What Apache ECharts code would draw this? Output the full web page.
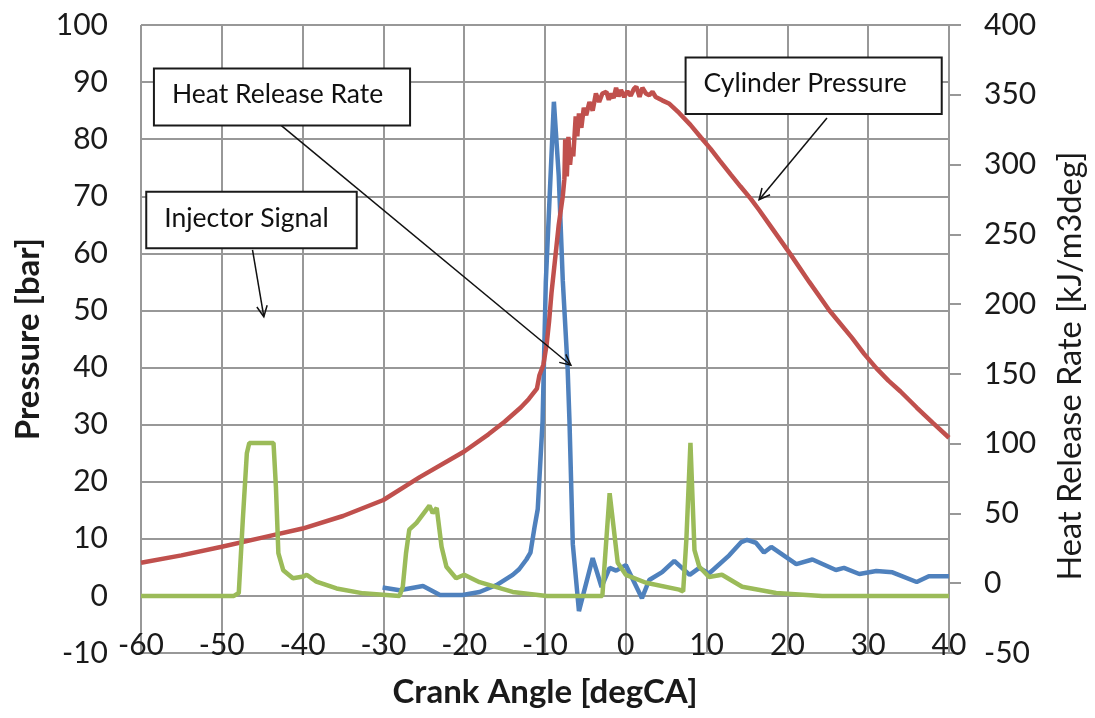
<!DOCTYPE html>
<html>
<head>
<meta charset="utf-8">
<script src="https://cdn.jsdelivr.net/npm/echarts@6/dist/echarts.min.js"></script>
<style>
html,body{margin:0;padding:0;background:#fff;}
#chart{width:1095px;height:718px;}
</style>
</head>
<body>
<div id="chart"></div>
<script>
// ---------- DATA ----------
const xTicks = [-60, -50, -40, -30, -20, -10, 0, 10, 20, 30, 40];
const leftTicks = [-10, 0, 10, 20, 30, 40, 50, 60, 70, 80, 90, 100];
const rightTicks = [-50, 0, 50, 100, 150, 200, 250, 300, 350, 400];

// Cylinder pressure [bar] vs crank angle
const pressureAngle = [-60,-55,-50,-45,-40,-35,-30,-25.5,-20,-17,-15,-13,-12,-11,-10.7,-10.2,-9.8,-9.5,-9.2,-8.9,-8.6,-8.3,-8.0,-7.8,-7.6,-7.5,-7.3,-7.1,-6.9,-6.7,-6.5,-6.2,-6.0,-5.8,-5.5,-5.2,-4.9,-4.5,-4.1,-3.7,-3.3,-2.9,-2.4,-2.1,-1.8,-1.5,-1.2,-0.9,-0.6,-0.2,0.2,0.6,1.0,1.3,1.7,2.05,2.5,2.9,3.3,3.7,4.5,5.4,6.6,8,9.3,10.5,11.6,13,14.2,15.5,16.5,18,20.3,22.7,25.2,28,29.5,31,32.5,34,36,38,40];
const pressureValue = [5.8,7.1,8.6,10.2,11.8,14.0,16.8,20.8,25.3,28.3,30.5,33.0,34.5,36.3,38.6,40.5,44,48,53,57,61,65,68,70,73,80,73.5,80.4,75.5,78.5,77,84,80.5,84.5,82,85.5,84.2,86.5,85,88,86.5,88,88.3,86.9,88,87.2,89,87.5,88.6,87.4,88.4,87.6,88.8,89.2,87.4,89,88,87.7,88.3,87.4,86.8,86.2,84.6,82.5,80.3,78.3,76.3,73.8,71.7,69.5,67.6,64.6,60,55,50,45.2,42.4,39.9,37.7,35.8,33,30.3,27.7];

// Injector signal (plotted on pressure axis)
const injectorAngle = [-60,-48.5,-47.9,-47.4,-46.9,-46.6,-43.6,-43.3,-43.0,-42.4,-41.2,-39.9,-39.5,-38.3,-35.8,-32.5,-28,-27.6,-27.2,-26.8,-25.9,-24.3,-23.9,-23.4,-22.8,-22.2,-21,-20,-18.1,-14,-9.8,-2.9,-2.0,-1.0,0,2.5,6.6,7.1,7.5,8.0,8.5,9.1,10.3,11.9,14.4,18.6,24.3,40];
const injectorValue = [0,0,0.5,13.3,25,26.8,26.8,19,7.5,4.5,3.1,3.4,3.7,2.5,1.3,0.45,0,1.6,7.5,11.6,12.8,15.8,14.5,15.4,8.6,5.1,3.1,3.7,2.4,0.7,0,0,18,5.8,3.7,2.3,1.1,0.8,10,26.8,8,5.1,3.3,3.7,1.6,0.5,0,0];

// Heat release rate [kJ/m3deg]
const hrrAngle = [-30.1,-28,-25.1,-23,-20.2,-18.1,-16,-14,-13.2,-12.3,-11.8,-11.3,-10.9,-10.3,-9.9,-8.9,-8.3,-7.8,-7.2,-6.97,-6.56,-5.8,-4.1,-3.0,-2.0,-1.2,0,2.0,2.9,4.5,6.0,7.9,9.1,10.3,12.8,14.3,15,16.1,17.1,18,21.1,23.1,26,27,28.9,31,33,36,37.5,40];
const hrrValue = [-3,-5,-2,-8.5,-8.5,-6.3,-1.3,6,10,17,22,40,53,116,216,345,292,217,154,116,28,-20,18,-2.7,11,9,13,-10.7,2.3,8,16,6,11,7,20,29.5,31,29,22,26,13.7,17,9.5,11,6.6,8.7,7.8,0.9,5,5];

// ---------- ANNOTATION LAYOUT (data coords on pressure axis) ----------
const notes = [
  { text: 'Heat Release Rate', box: [-58.4, 92.4, -26.7, 82.4], from: [-43.0, 82.8], to: [-6.8, 40.4] },
  { text: 'Cylinder Pressure', box: [7.4, 94.3, 39.1, 84.4], from: [24.9, 83.7], to: [16.5, 69.4] },
  { text: 'Injector Signal',   box: [-59.35, 70.8, -33.3, 60.9], from: [-46.2, 60.6], to: [-44.8, 48.9] }
];

function zip(a, b) { return a.map((v, i) => [v, b[i]]); }

const FONT = 'Lato, "Open Sans", sans-serif';
const GRID_COLOR = '#989898';
const TEXT_COLOR = '#1a1a1a';

const chart = echarts.init(document.getElementById('chart'), null, { renderer: 'canvas' });

const option = {
  animation: false,
  backgroundColor: '#ffffff',
  textStyle: { fontFamily: FONT },
  grid: { left: 141, right: 145, top: 25, bottom: 65, containLabel: false },
  xAxis: {
    type: 'value',
    min: xTicks[0], max: xTicks[xTicks.length - 1], interval: 10,
    axisLine: { show: true, onZero: false, lineStyle: { color: GRID_COLOR, width: 2 } },
    axisTick: { show: false },
    axisLabel: { inside: true, margin: -7, fontSize: 30, color: TEXT_COLOR, fontFamily: FONT, showMinLabel: true, showMaxLabel: true, hideOverlap: false },
    splitLine: { show: true, lineStyle: { color: GRID_COLOR, width: 2 } },
    name: 'Crank Angle [degCA]', nameLocation: 'middle', nameGap: 23,
    nameTextStyle: { fontSize: 33, fontWeight: 'bold', color: TEXT_COLOR, fontFamily: FONT }
  },
  yAxis: [
    {
      type: 'value', position: 'left',
      min: leftTicks[0], max: leftTicks[leftTicks.length - 1], interval: 10,
      axisLine: { show: true, lineStyle: { color: GRID_COLOR, width: 2 } },
      axisTick: { show: false },
      axisLabel: { margin: 33, fontSize: 30, color: TEXT_COLOR, fontFamily: FONT },
      splitLine: { show: true, lineStyle: { color: GRID_COLOR, width: 2 } },
      name: 'Pressure [bar]', nameLocation: 'middle', nameRotate: 90, nameGap: 96,
      nameTextStyle: { fontSize: 33, fontWeight: 'bold', color: TEXT_COLOR, fontFamily: FONT }
    },
    {
      type: 'value', position: 'right',
      min: rightTicks[0], max: rightTicks[rightTicks.length - 1], interval: 50,
      axisLine: { show: true, lineStyle: { color: GRID_COLOR, width: 2 } },
      axisTick: { show: true, inside: false, length: 12, lineStyle: { color: GRID_COLOR, width: 2 } },
      axisLabel: { margin: 35, fontSize: 30, color: TEXT_COLOR, fontFamily: FONT },
      splitLine: { show: false },
      name: 'Heat Release Rate [kJ/m3deg]', nameLocation: 'middle', nameRotate: 90, nameGap: 105,
      nameTextStyle: { fontSize: 32.5, color: TEXT_COLOR, fontFamily: FONT, padding: [0, 54, 0, 0] }
    }
  ],
  series: [
    {
      name: 'Heat Release Rate', type: 'line', yAxisIndex: 1,
      data: zip(hrrAngle, hrrValue), showSymbol: false, smooth: false,
      lineStyle: { color: '#4F81BD', width: 4.5 }, itemStyle: { color: '#4F81BD' }, z: 2
    },
    {
      name: 'Cylinder Pressure', type: 'line', yAxisIndex: 0,
      data: zip(pressureAngle, pressureValue), showSymbol: false, smooth: false,
      lineStyle: { color: '#C0504D', width: 4.5 }, itemStyle: { color: '#C0504D' }, z: 3
    },
    {
      name: 'Injector Signal', type: 'line', yAxisIndex: 0,
      data: zip(injectorAngle, injectorValue), showSymbol: false, smooth: false,
      lineStyle: { color: '#9BBB59', width: 4.5 }, itemStyle: { color: '#9BBB59' }, z: 4
    }
  ]
};
chart.setOption(option);

// ---------- annotations (boxes + arrows) ----------
function px(pt) { return chart.convertToPixel({ xAxisIndex: 0, yAxisIndex: 0 }, pt); }
const graphics = [];
notes.forEach(n => {
  const p1 = px([n.box[0], n.box[1]]);
  const p2 = px([n.box[2], n.box[3]]);
  const a = px(n.from), b = px(n.to);
  graphics.push({ type: 'line', z: 100, shape: { x1: a[0], y1: a[1], x2: b[0], y2: b[1] }, style: { stroke: '#111', lineWidth: 1.5 } });
  const ang = Math.atan2(b[1] - a[1], b[0] - a[0]);
  const L = 12, spread = 0.45;
  const h1 = [b[0] - L * Math.cos(ang - spread), b[1] - L * Math.sin(ang - spread)];
  const h2 = [b[0] - L * Math.cos(ang + spread), b[1] - L * Math.sin(ang + spread)];
  graphics.push({ type: 'polyline', z: 100, shape: { points: [h1, b, h2] }, style: { stroke: '#111', lineWidth: 1.5, fill: null } });
  graphics.push({
    type: 'rect', z: 101,
    shape: { x: p1[0], y: p1[1], width: p2[0] - p1[0], height: p2[1] - p1[1] },
    style: { fill: '#ffffff', stroke: '#1a1a1a', lineWidth: 2 }
  });
  graphics.push({
    type: 'text', z: 102,
    x: p1[0] + 18, y: (p1[1] + p2[1]) / 2 - 2,
    style: { text: n.text, fontSize: 26.5, fontFamily: FONT, fill: '#111', verticalAlign: 'middle', align: 'left' }
  });
});
chart.setOption({ graphic: graphics });
</script>
</body>
</html>
